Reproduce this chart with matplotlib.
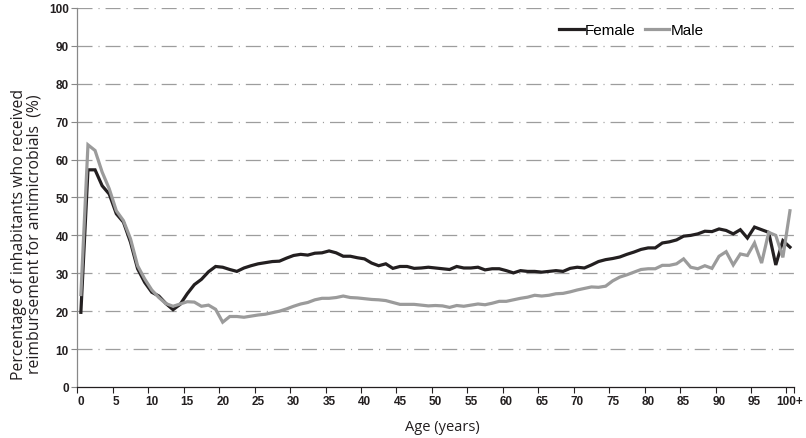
import numpy as np
import matplotlib
matplotlib.use("Agg")
import matplotlib.pyplot as plt

plt.rcParams["font.family"] = ["Liberation Sans", "DejaVu Sans"]
plt.rcParams["lines.scale_dashes"] = False

ages = list(range(0, 101))
tick_labels = [str(a) for a in range(0, 100, 5)] + ["100+"]

female = [19.7, 57.3, 57.3, 53.1, 50.9, 45.7, 43.5, 38.2, 31.2, 27.6,
          25.0, 24.0, 22.0, 20.4, 21.8, 24.6, 27.0, 28.4, 30.4, 31.8,
          31.6, 31.0, 30.5, 31.4, 32.0, 32.5, 32.8, 33.1, 33.2, 34.0,
          34.7, 35.0, 34.8, 35.3, 35.4, 35.9, 35.4, 34.5, 34.5, 34.1,
          33.8, 32.7, 32.0, 32.5, 31.3, 31.8, 31.8, 31.3, 31.4, 31.6,
          31.4, 31.2, 31.0, 31.8, 31.4, 31.4, 31.6, 30.9, 31.2, 31.2,
          30.7, 30.1, 30.7, 30.5, 30.5, 30.3, 30.5, 30.7, 30.5, 31.3,
          31.6, 31.4, 32.2, 33.1, 33.6, 33.9, 34.3, 35.0, 35.6, 36.3,
          36.7, 36.7, 38.0, 38.3, 38.8, 39.8, 40.0, 40.4, 41.1, 41.0,
          41.7, 41.3, 40.4, 41.5, 39.3, 42.2, 41.5, 40.8, 32.2, 38.6,
          36.9]

male = [24.4, 63.9, 62.4, 56.7, 52.3, 46.5, 43.9, 39.1, 32.0, 28.5,
        25.6, 23.6, 22.0, 21.3, 21.9, 22.5, 22.4, 21.3, 21.6, 20.5,
        17.1, 18.6, 18.6, 18.4, 18.7, 19.0, 19.2, 19.6, 20.0, 20.6,
        21.3, 21.9, 22.3, 23.0, 23.4, 23.4, 23.6, 24.0, 23.6, 23.5,
        23.3, 23.1, 23.0, 22.8, 22.3, 21.8, 21.8, 21.8, 21.6, 21.4,
        21.5, 21.4, 21.0, 21.5, 21.3, 21.6, 21.9, 21.7, 22.1, 22.6,
        22.6, 23.0, 23.4, 23.7, 24.2, 24.0, 24.2, 24.6, 24.7, 25.1,
        25.6, 26.0, 26.4, 26.3, 26.6, 28.0, 29.0, 29.6, 30.3, 31.0,
        31.2, 31.2, 32.1, 32.1, 32.5, 33.8, 31.6, 31.2, 32.0, 31.3,
        34.5, 35.7, 32.2, 35.1, 34.7, 38.0, 32.7, 40.8, 40.0, 34.2,
        46.5]

fig = plt.figure(figsize=(8.06, 4.39), dpi=100)
ax = fig.add_axes([0.0955, 0.1162, 0.889, 0.8633])

grid_style = (0, (10.8, 4.3, 0.8, 4.3))
for yv in range(10, 101, 10):
    ax.axhline(yv, color="#9d9d9d", lw=0.9, linestyle=grid_style, zorder=1)

ax.plot(ages, female, color="#231f20", lw=2.3, label="Female", zorder=3,
        solid_joinstyle="miter")
ax.plot(ages, male, color="#9b9b9b", lw=2.3, label="Male", zorder=3,
        solid_joinstyle="miter")

ax.set_xlim(-0.55, 100.5)
ax.set_ylim(0, 100)

ax.set_yticks(range(0, 101, 10))
ax.set_yticklabels([str(v) for v in range(0, 101, 10)], fontsize=8.5,
                   fontweight="bold", color="#231f20")
ax.tick_params(axis="y", length=4, width=0.8, color="#888888", pad=2)

# category ticks sit between categories; labels sit on the categories
ax.set_xticks([a + 0.5 for a in range(-1, 100, 5)] + [100.5])
ax.set_xticklabels([])
ax.tick_params(axis="x", which="major", length=4, width=0.8, color="#231f20")
ax.set_xticks(list(range(0, 101, 5)), minor=True)
ax.set_xticklabels(tick_labels, minor=True, fontsize=8.5, fontweight="bold",
                   color="#231f20")
ax.tick_params(axis="x", which="minor", length=0, pad=6)

for side in ("top", "right"):
    ax.spines[side].set_visible(False)
ax.spines["left"].set_color("#888888")
ax.spines["left"].set_linewidth(0.9)
ax.spines["bottom"].set_color("#231f20")
ax.spines["bottom"].set_linewidth(0.9)

ax.set_xlabel("Age (years)", fontsize=10.5, color="#231f20",
              family=["Open Sans", "DejaVu Sans"])
ax.xaxis.set_label_coords(0.51, -0.085)
ax.set_ylabel("Percentage of inhabitants who received\n"
              "reimbursement for antimicrobials  (%)", fontsize=11.3,
              color="#231f20", linespacing=1.0,
              family=["Open Sans", "DejaVu Sans"])
ax.yaxis.set_label_coords(-0.048, 0.405)

ax.legend(loc="upper right", bbox_to_anchor=(0.888, 0.985), frameon=False,
          fontsize=11, handlelength=1.6, handletextpad=0.1, columnspacing=0.6,
          ncol=2, borderaxespad=0.2)

fig.savefig("out.png", dpi=100)
